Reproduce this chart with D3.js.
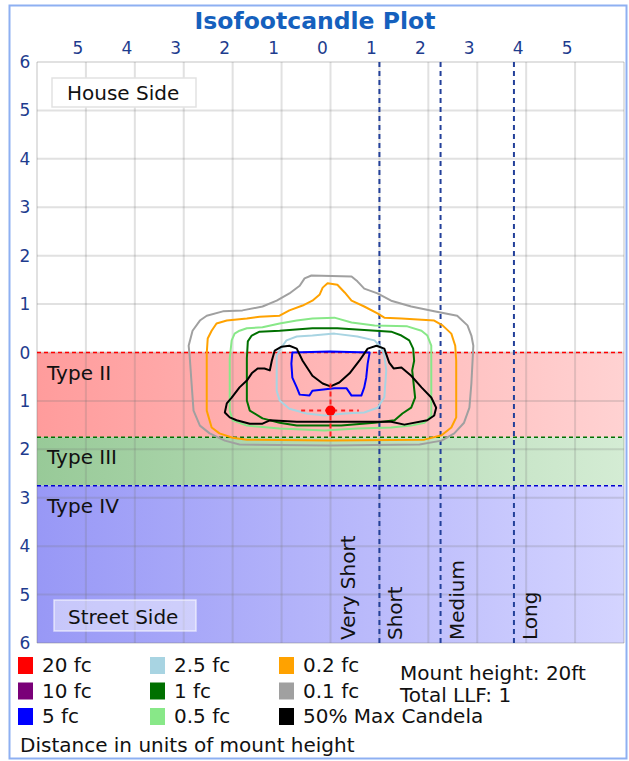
<!DOCTYPE html>
<html>
<head>
<meta charset="utf-8">
<script src="https://cdn.jsdelivr.net/npm/d3@7"></script>
<style>
body { margin: 0; background: #fff; }
text { font-family: "DejaVu Sans", sans-serif; }
</style>
</head>
<body>
<svg id="chart"></svg>
<script>
// ---- data (units of mount height, + is street side) ----
var xTicks = [-5, -4, -3, -2, -1, 0, 1, 2, 3, 4, 5];
var yTicks = [-6, -5, -4, -3, -2, -1, 0, 1, 2, 3, 4, 5, 6];

var bandNames = ["Type II", "Type III", "Type IV"];
var bandStarts = [0, 1.75, 2.75];
var bandEnds = [1.75, 2.75, 6];

var throwNames = ["Very Short", "Short", "Medium", "Long"];
var throwBreaks = [1.0, 2.25, 3.75];

var legendLabels = ["20 fc", "10 fc", "5 fc", "2.5 fc", "1 fc", "0.5 fc", "0.2 fc", "0.1 fc", "50% Max Candela"];
var infoLines = ["Mount height: 20ft", "Total LLF: 1"];

var luminaire = [0, 1.2];

var fc01 = [[-2.84,0.64],[-2.88,0.06],[-2.90,-0.14],[-2.82,-0.45],[-2.67,-0.66],[-2.53,-0.76],[-2.20,-0.85],
  [-1.80,-0.87],[-1.39,-0.95],[-1.10,-1.07],[-0.84,-1.22],[-0.63,-1.38],[-0.53,-1.53],[-0.39,-1.59],
  [0.43,-1.57],[0.55,-1.47],[0.69,-1.32],[0.96,-1.22],[1.24,-1.07],[1.65,-0.95],[2.12,-0.85],[2.59,-0.76],
  [2.80,-0.56],[2.88,-0.35],[2.92,-0.14],[2.88,0.64],[2.84,1.14],[2.73,1.45],[2.53,1.67],[2.27,1.82],
  [1.82,1.90],[-0.02,1.92],[-1.86,1.90],[-2.16,1.82],[-2.47,1.67],[-2.67,1.51],[-2.80,1.20]];
var fc02 = [[-2.53,1.20],[-2.53,0.02],[-2.51,-0.29],[-2.43,-0.45],[-2.33,-0.60],[-2.12,-0.66],[-1.71,-0.70],
  [-1.45,-0.74],[-1.04,-0.76],[-0.84,-0.87],[-0.57,-0.97],[-0.37,-1.07],[-0.22,-1.20],[-0.16,-1.34],
  [-0.06,-1.43],[0.14,-1.40],[0.29,-1.24],[0.43,-1.07],[0.69,-0.95],[0.96,-0.81],[1.10,-0.72],[1.45,-0.70],
  [2.12,-0.66],[2.29,-0.56],[2.47,-0.39],[2.55,-0.14],[2.57,0.17],[2.57,1.34],[2.47,1.55],[2.27,1.71],
  [1.92,1.80],[-0.02,1.82],[-1.71,1.80],[-2.00,1.76],[-2.27,1.67],[-2.43,1.55]];
var fc05 = [[-2.06,0.12],[-2.02,-0.25],[-1.96,-0.39],[-1.86,-0.45],[-1.71,-0.50],[-1.39,-0.52],[-1.04,-0.60],
  [-0.69,-0.66],[-0.37,-0.70],[0.08,-0.72],[0.43,-0.62],[0.90,-0.56],[1.57,-0.54],[1.86,-0.45],[1.98,-0.35],
  [2.06,-0.14],[2.06,1.30],[1.92,1.45],[1.65,1.51],[1.24,1.55],[0.55,1.57],[-0.12,1.61],[-1.04,1.57],
  [-1.71,1.51],[-2.00,1.40],[-2.06,1.20]];
var fc1 = [[-1.71,0.99],[-1.71,0.12],[-1.69,-0.23],[-1.61,-0.35],[-1.45,-0.43],[-1.04,-0.45],[-0.37,-0.50],
  [0.14,-0.50],[1.24,-0.43],[1.45,-0.35],[1.61,-0.25],[1.69,-0.08],[1.71,0.17],[1.67,0.37],[1.73,0.93],
  [1.65,1.14],[1.47,1.26],[1.31,1.40],[0.90,1.45],[0.22,1.51],[-0.69,1.51],[-1.04,1.45],[-1.39,1.36],[-1.65,1.20]];
var fc25 = [[-1.10,0.79],[-1.10,0.06],[-0.98,-0.14],[-0.90,-0.25],[-0.69,-0.33],[-0.37,-0.35],[0.08,-0.39],
  [0.55,-0.33],[0.90,-0.25],[1.04,-0.10],[1.10,0.06],[1.14,0.37],[1.10,0.93],[0.96,1.14],[0.69,1.24],
  [0.29,1.26],[-0.12,1.30],[-0.49,1.26],[-0.84,1.16],[-1.04,0.99]];
var fc5 = [[-0.78,0.00],[-0.02,-0.02],[0.80,0.00],[0.76,0.23],[0.73,0.52],[0.69,0.72],[0.63,0.89],[0.43,0.89],
  [0.33,0.74],[0.08,0.74],[-0.37,0.79],[-0.43,0.89],[-0.63,0.87],[-0.69,0.72],[-0.78,0.52],[-0.80,0.23]];
var maxCandela50 = [[-2.16,1.24],[-2.12,1.05],[-2.02,0.93],[-1.86,0.72],[-1.71,0.58],[-1.61,0.43],[-1.49,0.33],
  [-1.35,0.33],[-1.24,0.37],[-1.20,0.17],[-1.14,-0.04],[-1.00,-0.12],[-0.84,-0.14],[-0.69,-0.08],[-0.57,0.17],
  [-0.37,0.48],[-0.16,0.64],[0,0.70],[0.18,0.62],[0.39,0.43],[0.59,0.17],[0.76,-0.08],[0.94,-0.14],[1.10,-0.08],
  [1.20,0.21],[1.29,0.33],[1.45,0.31],[1.65,0.48],[1.86,0.72],[2.06,0.93],[2.16,1.14],[2.12,1.30],[1.98,1.40],
  [1.51,1.49],[1.24,1.43],[0.55,1.43],[-0.69,1.43],[-1.24,1.40],[-1.39,1.47],[-1.65,1.47],[-1.92,1.40],[-2.06,1.34]];

// ---- styles ----
var legendColors = ["#ff0000", "#7a0078", "#0000ff", "#a8d4e2", "#007000", "#88e888", "#ffa200", "#a0a0a0", "#000000"];
var bandColors = [["#ff9c9c", "#ffd2d2"], ["#98ca98", "#d4ecd4"], ["#9898f6", "#d4d4ff"]];
var bandLines = ["#ff0000", "#007000", "#0000d0"];

var contours = [
  {pts: fc01, color: legendColors[7]},
  {pts: fc02, color: legendColors[6]},
  {pts: fc05, color: legendColors[5]},
  {pts: fc1, color: legendColors[4]},
  {pts: fc25, color: legendColors[3]},
  {pts: fc5, color: legendColors[2]},
  {pts: maxCandela50, color: legendColors[8]}
];

var w = 629;
var h = 761;
var margin = {top: 62, left: 37, right: 5, bottom: 118};
var width = w - margin.left - margin.right;
var height = h - margin.top - margin.bottom;

var x = d3.scaleLinear().domain([-6, 6]).range([0, width]);
var y = d3.scaleLinear().domain([-6, 6]).range([0, height]);

var svg = d3.select("#chart").attr("width", w).attr("height", h);

// outer frame
svg.append("rect")
  .attr("x", 9.5).attr("y", 5.5)
  .attr("width", 617).attr("height", 753)
  .attr("fill", "#fff")
  .attr("stroke", "#8eb0f2").attr("stroke-width", 2);

svg.append("text")
  .attr("x", 315).attr("y", 29)
  .attr("text-anchor", "middle")
  .attr("font-size", 23.5).attr("font-weight", "bold")
  .attr("fill", "#1560bd")
  .text("Isofootcandle Plot");

var defs = svg.append("defs");
bandColors.forEach(function(c, i) {
  var g = defs.append("linearGradient").attr("id", "band" + i)
    .attr("x1", "0%").attr("x2", "100%").attr("y1", "0%").attr("y2", "0%");
  g.append("stop").attr("offset", "0%").attr("stop-color", c[0]);
  g.append("stop").attr("offset", "100%").attr("stop-color", c[1]);
});

var chart = svg.append("g")
  .attr("transform", "translate(" + margin.left + "," + margin.top + ")");

// bands
chart.selectAll(".band")
  .data(bandNames)
  .enter().append("rect")
  .attr("x", 0)
  .attr("y", function(d, i) { return y(bandStarts[i]); })
  .attr("width", width)
  .attr("height", function(d, i) { return y(bandEnds[i]) - y(bandStarts[i]); })
  .attr("fill", function(d, i) { return "url(#band" + i + ")"; });

// grid
var grid = d3.range(-6, 7);
chart.selectAll(".vgrid").data(grid).enter().append("line")
  .attr("x1", function(d) { return x(d); }).attr("x2", function(d) { return x(d); })
  .attr("y1", 0).attr("y2", height)
  .attr("stroke", "rgba(120,120,120,0.22)").attr("stroke-width", 2);
chart.selectAll(".hgrid").data(grid).enter().append("line")
  .attr("y1", function(d) { return y(d); }).attr("y2", function(d) { return y(d); })
  .attr("x1", 0).attr("x2", width)
  .attr("stroke", "rgba(120,120,120,0.22)").attr("stroke-width", 2);

// house / street side boxes
chart.append("rect").attr("x", 15).attr("y", 16).attr("width", 144).attr("height", 29)
  .attr("fill", "#fff").attr("stroke", "#e2e2e2").attr("stroke-width", 1.5);
chart.append("text").attr("x", 30).attr("y", 38).attr("font-size", 20).attr("fill", "#111").text("House Side");
chart.append("rect").attr("x", 17).attr("y", 538).attr("width", 142).attr("height", 31)
  .attr("fill", "rgba(255,255,255,0.45)").attr("stroke", "rgba(255,255,255,0.6)").attr("stroke-width", 1.5);
chart.append("text").attr("x", 31).attr("y", 562).attr("font-size", 20).attr("fill", "#111").text("Street Side");

// band labels and boundaries
chart.selectAll(".bandlabel").data(bandNames).enter().append("text")
  .attr("x", 10)
  .attr("y", function(d, i) { return y(bandStarts[i]) + 27; })
  .attr("font-size", 20).attr("fill", "#111")
  .text(function(d) { return d; });
chart.selectAll(".bandline").data(bandNames).enter().append("line")
  .attr("x1", 0).attr("x2", width)
  .attr("y1", function(d, i) { return y(bandStarts[i]); })
  .attr("y2", function(d, i) { return y(bandStarts[i]); })
  .attr("stroke", function(d, i) { return bandLines[i]; })
  .attr("stroke-width", 1.5).attr("stroke-dasharray", "4,3");

// throw lines
chart.selectAll(".throwline").data(throwBreaks).enter().append("line")
  .attr("x1", function(d) { return x(d); }).attr("x2", function(d) { return x(d); })
  .attr("y1", 0).attr("y2", height)
  .attr("stroke", "#23409a").attr("stroke-width", 2).attr("stroke-dasharray", "5,4");
chart.selectAll(".throwlabel").data(throwNames).enter().append("text")
  .attr("transform", function(d, i) {
    var px = i === 0 ? x(throwBreaks[0]) - 24 : x(throwBreaks[i - 1]) + 23;
    return "translate(" + px + "," + (height - 3) + ") rotate(-90)";
  })
  .attr("font-size", 20).attr("fill", "#111")
  .text(function(d) { return d; });

// contours
var line = d3.line()
  .x(function(d) { return x(d[0]); })
  .y(function(d) { return y(d[1]); })
  .curve(d3.curveLinearClosed);
chart.selectAll(".contour").data(contours).enter().append("path")
  .attr("d", function(d) { return line(d.pts); })
  .attr("fill", "none")
  .attr("stroke", function(d) { return d.color; })
  .attr("stroke-width", 2).attr("stroke-linejoin", "round");

// luminaire marker
chart.append("line")
  .attr("x1", x(luminaire[0] - 0.6)).attr("x2", x(luminaire[0] + 0.58))
  .attr("y1", y(luminaire[1])).attr("y2", y(luminaire[1]))
  .attr("stroke", "#ff2020").attr("stroke-width", 2).attr("stroke-dasharray", "4,4");
chart.append("line")
  .attr("x1", x(luminaire[0])).attr("x2", x(luminaire[0]))
  .attr("y1", y(luminaire[1] - 0.56)).attr("y2", y(luminaire[1] + 0.58))
  .attr("stroke", "#ff2020").attr("stroke-width", 2).attr("stroke-dasharray", "5,3");
chart.append("circle")
  .attr("cx", x(luminaire[0])).attr("cy", y(luminaire[1])).attr("r", 5)
  .attr("fill", "#ff0000");

// axis labels
chart.selectAll(".xlab").data(xTicks).enter().append("text")
  .attr("x", function(d) { return x(d) - 8; })
  .attr("y", -8)
  .attr("text-anchor", "middle")
  .attr("font-size", 17).attr("fill", "#1e3c8e")
  .text(function(d) { return Math.abs(d); });
chart.selectAll(".ylab").data(yTicks).enter().append("text")
  .attr("x", -12)
  .attr("y", function(d) { return y(d) + 6; })
  .attr("text-anchor", "middle")
  .attr("font-size", 17).attr("fill", "#1e3c8e")
  .text(function(d) { return Math.abs(d); });

// legend
var colX = [18, 150, 279];
var rowY = [665, 690.5, 716];
var leg = svg.selectAll(".legend").data(legendLabels).enter().append("g")
  .attr("transform", function(d, i) {
    return "translate(" + colX[Math.floor(i / 3)] + "," + rowY[i % 3] + ")";
  });
leg.append("rect").attr("x", 0).attr("y", -8).attr("width", 15).attr("height", 17)
  .attr("fill", function(d, i) { return legendColors[i]; });
leg.append("text").attr("x", 24).attr("y", 7).attr("font-size", 20).attr("fill", "#111")
  .text(function(d) { return d; });

svg.selectAll(".info").data(infoLines).enter().append("text")
  .attr("x", 400)
  .attr("y", function(d, i) { return 680 + i * 22; })
  .attr("font-size", 20).attr("fill", "#111")
  .text(function(d) { return d; });

svg.append("text").attr("x", 20).attr("y", 752).attr("font-size", 20).attr("fill", "#111")
  .text("Distance in units of mount height");
</script>
</body>
</html>
